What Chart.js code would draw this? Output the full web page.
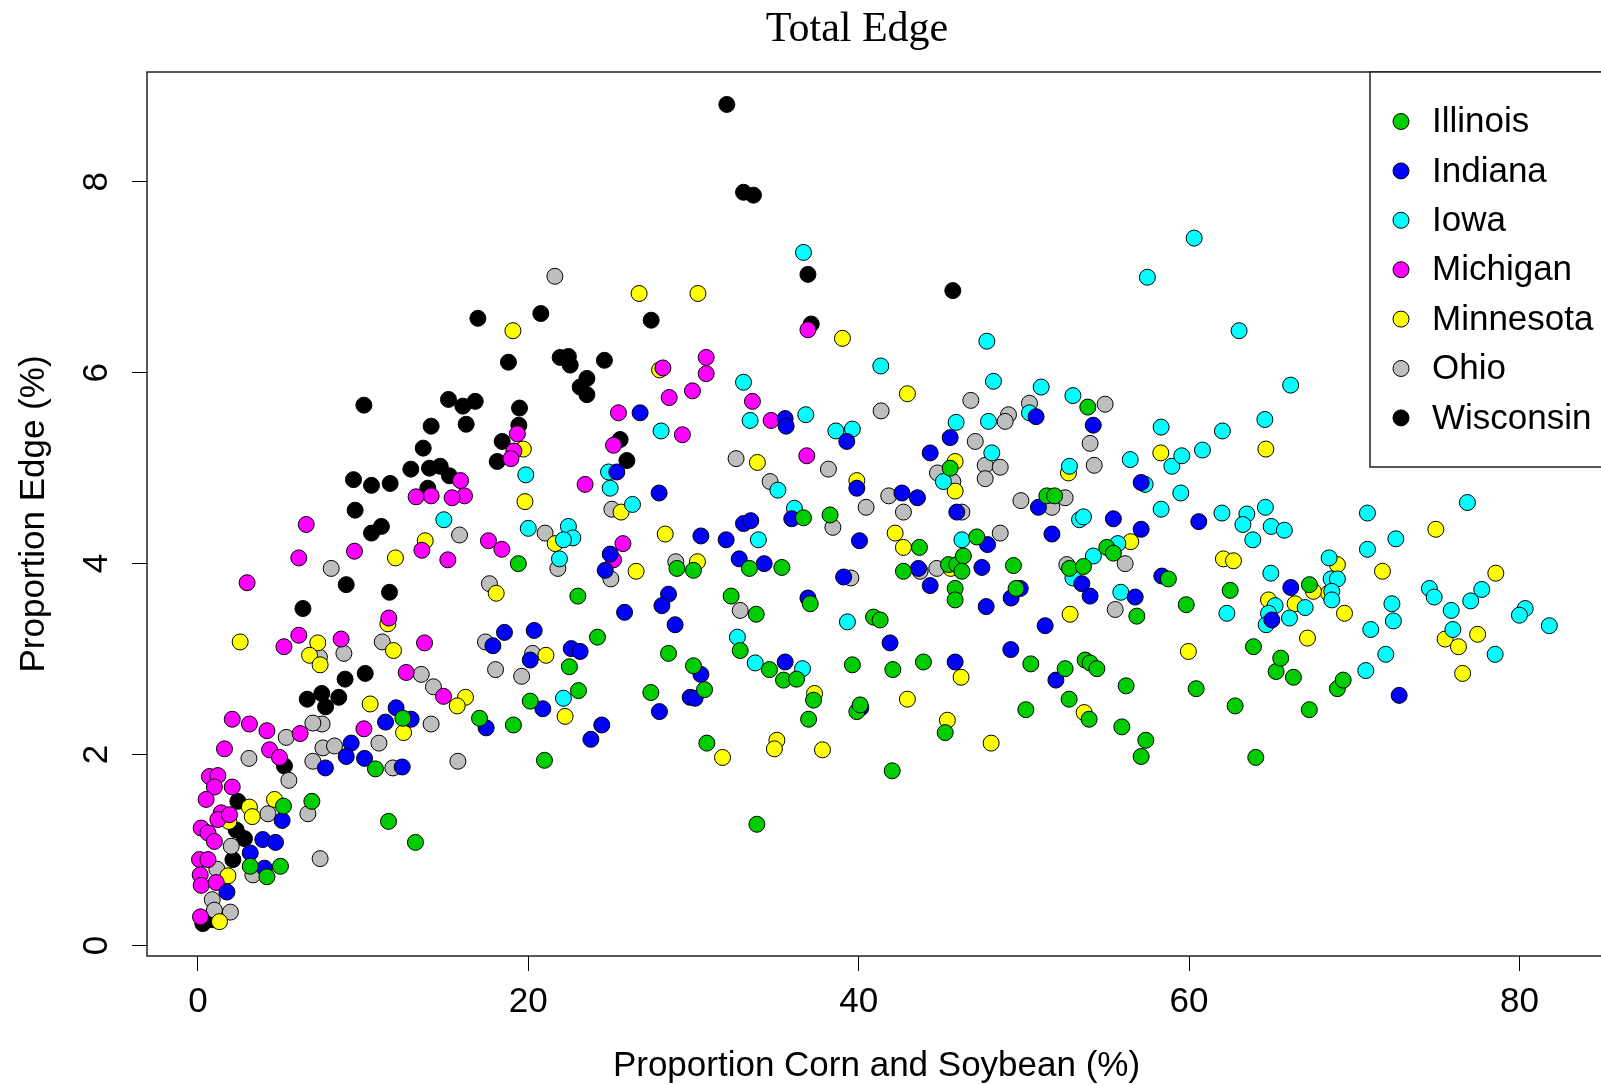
<!DOCTYPE html>
<html>
<head>
<meta charset="utf-8">
<script src="https://cdn.jsdelivr.net/npm/chart.js@4"></script>
<style>
  html, body { margin: 0; padding: 0; background: #fff; overflow: hidden; }
  #wrap { width: 1601px; height: 1085px; overflow: hidden; position: relative; }
  #edgeChart { position: absolute; left: 0; top: 0; }
</style>
</head>
<body>
<div id="wrap"><canvas id="edgeChart" width="1610" height="1085"></canvas></div>
<script>
// Total Edge - proportion edge vs proportion corn & soybean, one series per state

const states = ['Illinois', 'Indiana', 'Iowa', 'Michigan', 'Minnesota', 'Ohio', 'Wisconsin'];
const stateColors = ['#00CD00', '#0000FF', '#00FFFF', '#FF00FF', '#FFFF00', '#BEBEBE', '#000000'];

// [corn & soybean %, edge %]
const illinois = [
  [19.4,4.0],[23.0,3.66],[29.0,3.95],[30.0,3.93],[33.39,3.95],[35.35,3.96],[36.66,4.48],[38.27,4.51],
  [32.28,3.66],[33.8,3.47],[37.07,3.58],[40.9,3.44],[41.3,3.41],[24.19,3.23],[22.49,2.92],[32.83,3.09],
  [28.49,3.06],[34.6,2.89],[35.45,2.78],[36.24,2.79],[30.0,2.93],[39.62,2.94],[20.12,2.56],[23.04,2.67],
  [19.1,2.31],[20.98,1.94],[27.42,2.65],[30.67,2.68],[30.81,2.12],[33.84,1.27],[37.27,2.57],[36.97,2.37],
  [39.89,2.45],[40.09,2.52],[42.07,2.89],[43.92,2.97],[45.24,2.23],[50.42,2.95],[50.12,2.47],[52.5,2.90],
  [52.74,2.58],[53.95,2.37],[53.71,2.99],[54.01,2.96],[54.42,2.90],[56.19,2.72],[55.93,2.29],[57.38,2.15],
  [57.1,1.98],[60.43,2.69],[62.79,2.51],[64.04,1.97],[42.03,1.83],[65.27,2.87],[65.55,3.01],[66.32,2.81],
  [67.28,2.47],[68.98,2.69],[69.33,2.78],[53.87,5.64],[45.54,5.0],[51.39,4.71],[51.86,4.71],[43.68,4.17],
  [47.15,4.28],[55.02,4.17],[55.42,4.11],[42.71,3.92],[45.44,3.99],[45.94,3.99],[46.34,4.08],[46.25,3.92],
  [45.84,3.74],[45.84,3.62],[49.37,3.98],[49.53,3.74],[52.76,3.95],[53.61,3.97],[56.84,3.45],[58.75,3.84],
  [59.83,3.57],[62.49,3.72],[63.9,3.13],[67.29,3.78],[17.05,2.38],[12.41,2.38],[10.75,1.85],[5.18,1.46],
  [6.9,1.51],[3.17,0.83],[4.18,0.72],[5.0,0.83],[11.54,1.30],[13.17,1.08]
];
const indiana = [
  [26.77,5.58],[35.55,5.52],[35.61,5.44],[39.28,5.28],[39.89,4.79],[27.92,4.74],[35.95,4.47],[40.05,4.24],
  [25.36,4.96],[24.96,4.10],[24.66,3.93],[30.45,4.29],[31.98,4.25],[33.03,4.42],[33.47,4.45],[32.77,4.05],
  [34.28,4.0],[39.09,3.86],[25.83,3.49],[28.49,3.68],[28.09,3.56],[28.89,3.36],[36.93,3.64],[20.36,3.30],
  [20.12,2.99],[22.6,3.11],[23.14,3.08],[35.55,2.97],[30.45,2.84],[20.88,2.48],[24.45,2.31],[23.79,2.16],
  [27.94,2.45],[29.8,2.60],[30.1,2.59],[40.13,2.49],[45.84,2.97],[51.94,2.78],[72.72,2.62],[50.74,5.54],
  [45.54,5.32],[54.2,5.45],[44.33,5.16],[42.62,4.74],[43.56,4.69],[45.94,4.54],[50.88,4.59],[57.1,4.85],
  [60.59,4.44],[55.42,4.47],[57.1,4.36],[51.7,4.31],[47.8,4.20],[43.62,3.95],[44.33,3.77],[47.46,3.96],
  [47.72,3.55],[49.23,3.64],[49.78,3.74],[53.51,3.79],[54.01,3.66],[56.74,3.65],[58.35,3.87],[51.29,3.35],
  [41.9,3.17],[49.21,3.10],[66.16,3.75],[65.01,3.41],[18.56,3.28],[17.86,3.14],[17.45,2.28],[12.0,2.49],
  [11.36,2.34],[12.91,2.37],[9.28,2.12],[8.98,1.98],[10.09,1.96],[7.72,1.86],[12.37,1.87],[5.1,1.31],
  [3.93,1.11],[4.7,1.08],[3.17,0.97],[4.03,0.81],[1.76,0.56]
];
const iowa = [
  [36.66,7.26],[41.34,6.07],[33.03,5.9],[60.31,7.41],[57.48,7.0],[63.03,6.44],[47.76,6.33],[48.16,5.91],
  [51.05,5.85],[33.43,5.50],[36.80,5.56],[28.04,5.39],[38.62,5.39],[39.62,5.41],[35.11,4.77],[36.11,4.58],
  [19.85,4.93],[24.86,4.96],[24.96,4.79],[26.31,4.62],[20.0,4.37],[22.43,4.39],[22.7,4.27],[22.13,4.25],
  [21.89,4.05],[33.93,4.25],[39.32,3.39],[32.66,3.23],[33.74,2.96],[36.6,2.90],[22.13,2.59],[52.97,5.76],
  [50.34,5.58],[47.86,5.49],[45.9,5.48],[48.06,5.16],[45.13,4.86],[52.76,5.02],[56.44,5.09],[57.34,4.83],
  [58.31,5.43],[62.02,5.39],[64.59,5.51],[58.96,5.02],[59.56,5.13],[60.81,5.19],[59.5,4.74],[58.31,4.57],
  [61.99,4.53],[63.5,4.52],[63.26,4.41],[63.86,4.25],[53.37,4.46],[53.61,4.49],[46.25,4.25],[54.21,4.08],
  [55.69,4.21],[52.97,3.85],[55.87,3.70],[62.29,3.48],[66.15,5.87],[76.85,4.64],[70.8,4.53],[72.52,4.26],
  [70.8,4.15],[64.62,4.59],[64.97,4.39],[65.77,4.35],[68.48,4.06],[68.6,3.84],[68.98,3.84],[68.64,3.71],
  [68.64,3.62],[64.95,3.90],[65.21,3.56],[67.03,3.54],[64.81,3.48],[64.67,3.36],[66.08,3.43],[74.55,3.74],
  [74.84,3.65],[77.72,3.73],[77.05,3.61],[72.28,3.58],[72.37,3.40],[75.87,3.51],[75.97,3.31],[80.35,3.53],
  [80.0,3.46],[81.81,3.35],[78.53,3.05],[71.0,3.31],[71.91,3.05],[70.7,2.88],[14.89,4.46]
];
const michigan = [
  [28.15,6.05],[30.77,6.16],[30.77,5.99],[36.93,6.45],[25.16,5.24],[25.46,5.58],[28.53,5.74],[29.94,5.81],
  [33.57,5.70],[34.70,5.50],[29.33,5.35],[36.86,5.13],[23.44,4.83],[19.34,5.36],[19.13,5.18],[18.95,5.10],
  [25.73,4.21],[25.16,4.04],[15.9,4.87],[16.14,4.71],[15.39,4.69],[14.12,4.71],[13.21,4.70],[17.59,4.24],
  [18.4,4.15],[6.56,4.41],[6.11,4.06],[9.48,4.13],[13.56,4.14],[15.13,4.04],[2.98,3.80],[11.56,3.43],
  [6.11,3.25],[5.21,3.13],[8.67,3.21],[13.72,3.17],[12.61,2.86],[14.87,2.61],[10.05,2.27],[2.08,2.37],
  [3.12,2.32],[4.18,2.25],[6.19,2.22],[1.61,2.06],[4.34,2.05],[4.94,1.97],[0.70,1.77],[1.21,1.78],
  [1.0,1.66],[2.08,1.66],[0.50,1.53],[1.41,1.39],[1.21,1.32],[1.91,1.37],[0.20,1.23],[0.61,1.18],
  [1.0,1.09],[0.10,0.90],[0.61,0.90],[0.14,0.74],[0.20,0.63],[1.11,0.66],[0.16,0.30]
];
const minnesota = [
  [19.07,6.44],[26.71,6.83],[30.27,6.83],[39.02,6.36],[27.95,6.03],[19.7,5.20],[33.87,5.06],[39.89,4.87],
  [19.8,4.65],[25.62,4.54],[21.63,4.21],[26.53,3.92],[28.29,4.31],[30.24,4.02],[21.07,3.04],[22.23,2.40],
  [31.76,1.97],[37.33,2.64],[35.05,2.15],[34.9,2.06],[37.81,2.05],[46.2,2.81],[42.95,2.58],[45.37,2.36],
  [48.02,2.12],[53.65,2.44],[76.56,2.85],[42.95,5.78],[45.84,5.07],[45.84,4.76],[52.7,4.95],[58.29,5.16],
  [42.21,4.32],[42.71,4.17],[56.47,4.23],[45.58,3.95],[62.08,4.05],[62.69,4.03],[52.8,3.47],[59.96,3.08],
  [64.65,5.20],[74.94,4.36],[68.98,3.99],[68.44,3.69],[69.41,3.48],[67.53,3.71],[64.81,3.62],[66.42,3.58],
  [71.71,3.92],[78.57,3.90],[75.5,3.21],[76.31,3.13],[77.47,3.26],[67.17,3.22],[11.96,4.06],[13.76,4.24],
  [18.06,3.69],[11.5,3.37],[2.56,3.18],[7.26,3.17],[6.76,3.04],[7.4,2.94],[11.84,3.09],[16.2,2.60],
  [15.7,2.51],[10.43,2.53],[12.45,2.23],[3.12,1.45],[3.29,1.35],[4.64,1.53],[1.88,1.30],[1.82,0.73],
  [1.31,0.25]
];
const ohio = [
  [21.61,7.01],[41.36,5.60],[32.58,5.10],[38.17,4.99],[41.82,4.71],[40.45,4.59],[34.64,4.86],[38.44,4.38],
  [25.06,4.57],[21.02,4.32],[21.79,3.95],[25.0,3.84],[28.93,4.02],[39.53,3.85],[32.83,3.51],[20.26,3.06],
  [19.6,2.82],[46.79,5.71],[54.92,5.67],[50.34,5.68],[49.07,5.56],[48.87,5.49],[47.06,5.28],[54.01,5.26],
  [44.77,4.95],[45.7,4.86],[47.66,5.03],[48.57,5.01],[47.66,4.89],[42.71,4.54],[46.25,4.54],[49.82,4.66],
  [52.5,4.69],[51.7,4.59],[54.26,5.03],[48.57,4.32],[56.13,4.0],[43.72,3.92],[44.73,3.95],[52.6,3.99],
  [55.53,3.52],[15.84,4.30],[8.07,3.95],[17.65,3.79],[7.36,3.02],[8.84,3.06],[11.16,3.18],[17.41,3.18],
  [18.02,2.89],[13.52,2.84],[14.26,2.71],[14.12,2.32],[10.96,2.12],[11.8,1.86],[15.74,1.93],[7.52,2.32],
  [6.96,2.33],[6.96,1.93],[7.57,2.07],[8.27,2.09],[5.35,2.18],[3.09,1.96],[5.51,1.73],[4.24,1.38],
  [6.66,1.38],[2.02,1.04],[1.15,0.80],[3.33,0.74],[0.87,0.48],[1.97,0.35],[1.0,0.37],[7.4,0.91]
];
const wisconsin = [
  [32.02,8.81],[33.03,7.89],[33.63,7.86],[36.93,7.03],[37.13,6.51],[45.7,6.86],[16.95,6.57],[20.76,6.62],
  [27.44,6.55],[21.93,6.16],[22.43,6.17],[22.54,6.08],[24.61,6.13],[23.55,5.94],[23.14,5.85],[23.55,5.77],
  [18.8,6.11],[10.05,5.66],[15.17,5.72],[16.04,5.65],[16.79,5.70],[16.24,5.46],[14.12,5.44],[13.64,5.21],
  [19.47,5.63],[19.43,5.45],[18.42,5.28],[18.12,5.07],[12.89,4.99],[14.02,5.0],[14.67,5.02],[15.23,4.92],
  [13.92,4.79],[9.42,4.88],[10.51,4.82],[11.64,4.84],[9.52,4.56],[10.51,4.32],[11.11,4.39],[8.98,3.78],
  [11.6,3.70],[6.36,3.53],[25.56,5.30],[25.97,5.08],[10.13,2.85],[8.91,2.79],[6.62,2.58],[7.5,2.64],
  [8.53,2.60],[7.73,2.50],[5.24,1.88],[2.42,1.51],[2.32,1.21],[2.82,1.12],[2.12,0.90],[0.30,0.23],
  [0.9,0.27]
];

const seriesValues = [illinois, indiana, iowa, michigan, minnesota, ohio, wisconsin];

const xTicksStep = 20;
const yTicksStep = 2;

const sansFont = 'Liberation Sans, Arial, sans-serif';

// title over the plot, legend box in the top-right corner, frame around the plot
const framePlugin = {
  id: 'frame',
  afterDraw(chart) {
    const {ctx, chartArea} = chart;
    ctx.save();
    ctx.strokeStyle = '#222';
    ctx.lineWidth = 1.5;
    ctx.strokeRect(chartArea.left, chartArea.top, chartArea.right - chartArea.left, chartArea.bottom - chartArea.top);

    // title
    ctx.fillStyle = '#000';
    ctx.font = '42px "Liberation Serif", "Times New Roman", serif';
    ctx.textAlign = 'center';
    ctx.textBaseline = 'alphabetic';
    ctx.fillText('Total Edge', 857, 41);

    // legend
    const lx = 1370, ly = chartArea.top, lh = 395;
    ctx.fillStyle = '#fff';
    ctx.fillRect(lx, ly, 400, lh);
    ctx.strokeRect(lx, ly, 400, lh);
    ctx.font = '35px ' + sansFont;
    ctx.textAlign = 'left';
    ctx.textBaseline = 'middle';
    chart.data.datasets.forEach((ds, i) => {
      const cy = 121.5 + i * 49.4;
      ctx.beginPath();
      ctx.arc(1401, cy, 8, 0, Math.PI * 2);
      ctx.fillStyle = ds.backgroundColor;
      ctx.fill();
      ctx.lineWidth = 1;
      ctx.strokeStyle = '#000';
      ctx.stroke();
      ctx.fillStyle = '#000';
      ctx.fillText(ds.label, 1432, cy + 1);
    });
    ctx.restore();
  }
};

const ctx = document.getElementById('edgeChart').getContext('2d');

const config = {
  type: 'scatter',
  data: {
    datasets: states.map((name, i) => ({
      label: name,
      data: seriesValues[i].map(([x, y]) => ({x, y})),
      backgroundColor: stateColors[i],
      borderColor: '#000',
      borderWidth: 1,
      pointRadius: 8,
      pointHoverRadius: 8
    }))
  },
  options: {
    responsive: false,
    animation: false,
    devicePixelRatio: 1,
    events: [],
    // plot box runs a few pixels past the right edge of the page (canvas is clipped by #wrap)
    layout: { autoPadding: false, padding: { left: 0, right: 4, top: 72, bottom: 0 } },
    plugins: {
      legend: { display: false },
      tooltip: { enabled: false },
      title: { display: false }
    },
    scales: {
      x: {
        type: 'linear',
        position: 'bottom',
        min: -3.08,
        max: 85.24,
        afterFit: (scale) => { scale.height = 129; },
        border: { display: false },
        grid: { drawOnChartArea: false, drawTicks: true, tickLength: 15, color: '#000', lineWidth: 1 },
        ticks: {
          stepSize: xTicksStep,
          includeBounds: false,
          autoSkip: false,
          maxRotation: 0,
          padding: 10,
          color: '#000',
          font: { family: sansFont, size: 35 }
        },
        title: {
          display: true,
          text: 'Proportion Corn and Soybean (%)',
          color: '#000',
          font: { family: sansFont, size: 35, lineHeight: 1 },
          padding: { top: 0, bottom: 1.5 }
        }
      },
      y: {
        type: 'linear',
        min: -0.11,
        max: 9.15,
        afterFit: (scale) => { scale.width = 147; },
        border: { display: false },
        grid: { drawOnChartArea: false, drawTicks: true, tickLength: 15, color: '#000', lineWidth: 1 },
        ticks: {
          stepSize: yTicksStep,
          includeBounds: false,
          autoSkip: false,
          minRotation: 90,
          maxRotation: 90,
          crossAlign: 'center',
          padding: 25,
          color: '#000',
          font: { family: sansFont, size: 35 }
        },
        title: {
          display: true,
          text: 'Proportion Edge (%)',
          color: '#000',
          font: { family: sansFont, size: 35, lineHeight: 1 },
          padding: { top: 16.5, bottom: 0 }
        }
      }
    }
  },
  plugins: [framePlugin]
};

new Chart(ctx, config);
</script>
</body>
</html>
